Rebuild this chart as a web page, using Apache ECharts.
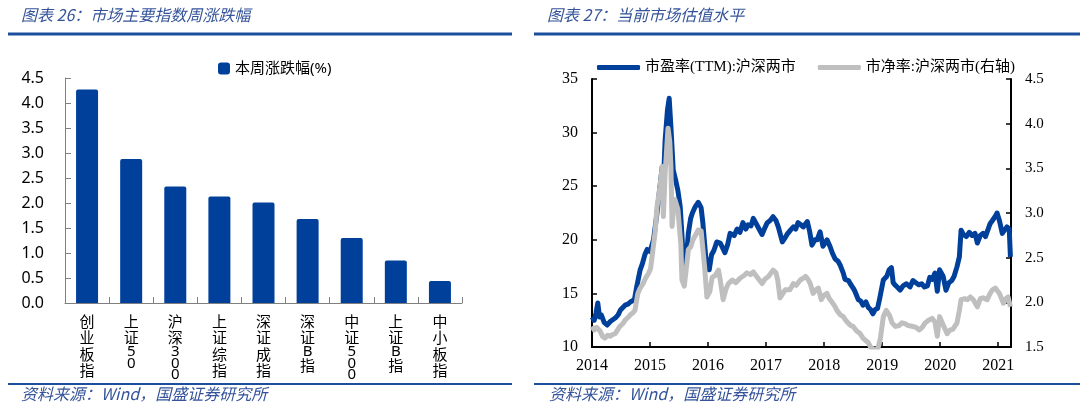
<!DOCTYPE html>
<html>
<head>
<meta charset="utf-8">
<script src="https://cdn.jsdelivr.net/npm/echarts@6/dist/echarts.min.js"></script>
<style>
  html, body { margin: 0; padding: 0; background: #fff; }
  #main { width: 1080px; height: 408px; }
</style>
</head>
<body>
<div id="main"></div>
<script>
// ---- 图表26 数据 ----
const barCats = ['创业板指', '上证50', '沪深300', '上证综指', '深证成指', '深证B指', '中证500', '上证B指', '中小板指'];
const barVals = [4.27, 2.88, 2.33, 2.13, 2.01, 1.68, 1.30, 0.85, 0.44];

// ---- 图表27 数据 (横轴为年份小数) ----
const peT = [2014.00, 2014.04, 2014.07, 2014.10, 2014.13, 2014.16, 2014.21, 2014.26, 2014.32, 2014.40,
  2014.45, 2014.49, 2014.57, 2014.62, 2014.66, 2014.73, 2014.77, 2014.83, 2014.87, 2014.91,
  2014.95, 2015.00, 2015.06, 2015.12, 2015.17, 2015.21, 2015.24, 2015.26, 2015.30, 2015.33,
  2015.36, 2015.40, 2015.44, 2015.48, 2015.52, 2015.56, 2015.60, 2015.63, 2015.66, 2015.70,
  2015.73, 2015.78, 2015.83, 2015.88, 2015.91, 2015.96, 2016.02, 2016.06, 2016.10, 2016.15,
  2016.21, 2016.29, 2016.34, 2016.38, 2016.45, 2016.50, 2016.55, 2016.60, 2016.65, 2016.69,
  2016.74, 2016.78, 2016.82, 2016.86, 2016.93, 2016.97, 2017.02, 2017.07, 2017.12, 2017.17,
  2017.21, 2017.28, 2017.33, 2017.36, 2017.42, 2017.47, 2017.51, 2017.55, 2017.60, 2017.64,
  2017.71, 2017.75, 2017.79, 2017.84, 2017.88, 2017.93, 2017.98, 2018.05, 2018.10, 2018.14,
  2018.19, 2018.24, 2018.28, 2018.33, 2018.36, 2018.42, 2018.45, 2018.50, 2018.53, 2018.59,
  2018.63, 2018.67, 2018.72, 2018.76, 2018.80, 2018.84, 2018.88, 2018.92, 2018.96, 2019.02,
  2019.08, 2019.12, 2019.16, 2019.19, 2019.22, 2019.26, 2019.31, 2019.36, 2019.42, 2019.48,
  2019.53, 2019.58, 2019.63, 2019.68, 2019.73, 2019.78, 2019.82, 2019.86, 2019.91, 2019.95,
  2019.99, 2020.05, 2020.10, 2020.15, 2020.20, 2020.24, 2020.29, 2020.33, 2020.36, 2020.40,
  2020.45, 2020.50, 2020.55, 2020.60, 2020.64, 2020.69, 2020.74, 2020.78, 2020.81, 2020.86,
  2020.90, 2020.95, 2020.98, 2021.02, 2021.07, 2021.11, 2021.15, 2021.19, 2021.21];
const peVals = [12.8, 12.5, 13.2, 14.1, 12.8, 13.0, 12.3, 12.05, 12.4, 12.7,
  13.0, 13.45, 13.9, 14.0, 14.2, 14.4, 15.6, 17.2, 17.8, 18.6,
  19.1, 18.9, 20.0, 22.5, 24.9, 26.8, 26.5, 29.3, 32.1, 33.2,
  30.5, 26.5, 25.6, 24.6, 23.1, 19.5, 17.3, 18.5, 20.6, 22.0,
  22.5, 23.1, 23.5, 23.0, 21.6, 18.4, 17.2, 18.6, 19.0, 19.8,
  19.7, 18.8, 19.6, 20.6, 20.4, 21.0, 20.7, 21.6, 21.0, 21.4,
  21.3, 22.0, 21.6, 21.2, 20.5, 21.0, 21.6, 21.8, 22.15, 21.8,
  21.2, 19.8, 20.2, 20.5, 20.9, 21.2, 21.0, 21.6, 21.4, 21.2,
  21.7, 20.8, 19.5, 20.0, 20.0, 20.75, 19.4, 20.0, 19.4, 18.8,
  18.2, 18.0, 17.6, 16.9, 16.3, 16.2, 15.9, 15.5, 15.2, 14.4,
  14.3, 13.9, 14.2, 13.7, 13.5, 13.1, 13.5, 13.6, 14.6, 16.25,
  16.6, 17.2, 17.4, 16.0, 15.8, 15.6, 15.3, 15.7, 15.9, 15.6,
  16.2, 16.0, 15.8, 15.9, 15.6, 15.7, 16.5, 16.3, 16.9, 15.2,
  17.2, 16.6, 15.3, 16.0, 16.2, 16.6, 17.5, 18.4, 20.9, 20.5,
  20.3, 20.7, 20.4, 20.6, 19.7, 20.4, 20.6, 20.3, 20.4, 21.5,
  21.8, 22.2, 22.5, 21.8, 20.6, 20.9, 21.2, 21.0, 18.4];

const pbT = [2014.00, 2014.04, 2014.08, 2014.14, 2014.18, 2014.22, 2014.27, 2014.31, 2014.36, 2014.40,
  2014.45, 2014.48, 2014.53, 2014.57, 2014.62, 2014.66, 2014.70, 2014.74, 2014.79, 2014.83,
  2014.88, 2014.93, 2014.97, 2015.01, 2015.05, 2015.09, 2015.12, 2015.17, 2015.21, 2015.23,
  2015.26, 2015.29, 2015.31, 2015.34, 2015.36, 2015.38, 2015.41, 2015.43, 2015.48, 2015.53,
  2015.55, 2015.59, 2015.62, 2015.66, 2015.70, 2015.74, 2015.79, 2015.83, 2015.88, 2015.90,
  2015.94, 2015.98, 2016.03, 2016.07, 2016.12, 2016.18, 2016.21, 2016.26, 2016.31, 2016.35,
  2016.42, 2016.48, 2016.55, 2016.62, 2016.67, 2016.73, 2016.78, 2016.86, 2016.93, 2016.98,
  2017.04, 2017.12, 2017.17, 2017.20, 2017.24, 2017.29, 2017.33, 2017.41, 2017.47, 2017.52,
  2017.59, 2017.64, 2017.68, 2017.72, 2017.76, 2017.81, 2017.86, 2017.90, 2017.95, 2018.00,
  2018.05, 2018.09, 2018.14, 2018.19, 2018.22, 2018.28, 2018.33, 2018.37, 2018.41, 2018.46,
  2018.50, 2018.56, 2018.62, 2018.67, 2018.72, 2018.76, 2018.80, 2018.84, 2018.88, 2018.93,
  2018.97, 2019.02, 2019.07, 2019.10, 2019.13, 2019.17, 2019.23, 2019.29, 2019.34, 2019.40,
  2019.45, 2019.53, 2019.58, 2019.64, 2019.69, 2019.74, 2019.80, 2019.86, 2019.91, 2019.95,
  2019.99, 2020.05, 2020.12, 2020.17, 2020.22, 2020.29, 2020.33, 2020.36, 2020.42, 2020.47,
  2020.52, 2020.57, 2020.64, 2020.69, 2020.74, 2020.81, 2020.86, 2020.90, 2020.95, 2020.98,
  2021.02, 2021.07, 2021.09, 2021.13, 2021.17, 2021.21];
const pbVals = [1.73, 1.69, 1.72, 1.68, 1.62, 1.60, 1.63, 1.62, 1.64, 1.65,
  1.70, 1.73, 1.76, 1.80, 1.83, 1.86, 1.88, 1.91, 2.10, 2.16,
  2.21, 2.28, 2.32, 2.38, 2.59, 2.80, 3.07, 3.29, 3.52, 2.96,
  3.44, 3.75, 3.95, 3.80, 3.52, 2.85, 3.10, 3.15, 3.04, 2.66,
  2.25, 2.18, 2.35, 2.59, 2.62, 2.70, 2.76, 2.81, 2.80, 2.78,
  2.40, 2.06, 2.12, 2.28, 2.30, 2.36, 2.25, 2.03, 2.15, 2.21,
  2.25, 2.22, 2.27, 2.30, 2.33, 2.31, 2.34, 2.27, 2.21, 2.26,
  2.29, 2.36, 2.33, 2.25, 2.05, 2.10, 2.14, 2.14, 2.21, 2.19,
  2.25, 2.27, 2.29, 2.26, 2.21, 2.10, 2.14, 2.16, 2.03, 2.08,
  2.10, 2.04, 2.00, 1.95, 1.91, 1.86, 1.84, 1.80, 1.77, 1.74,
  1.73, 1.68, 1.65, 1.60, 1.57, 1.55, 1.50, 1.48, 1.47, 1.49,
  1.60, 1.84, 1.91, 1.93, 1.85, 1.77, 1.73, 1.74, 1.77, 1.76,
  1.74, 1.73, 1.72, 1.69, 1.72, 1.77, 1.80, 1.82, 1.78, 1.62,
  1.84, 1.75, 1.65, 1.69, 1.70, 1.77, 1.91, 2.03, 2.04, 2.03,
  2.06, 2.03, 1.95, 2.04, 2.05, 2.03, 2.10, 2.14, 2.16, 2.18,
  2.10, 2.02, 1.99, 2.04, 2.06, 1.95];

const peName = '市盈率(TTM):沪深两市';
const pbName = '市净率:沪深两市(右轴)';
const barName = '本周涨跌幅(%)';

const blue = '#00409a';
const gray = '#bfbfbf';
const ruleBlue = '#1b4f9e';
const noteColor = '#34539a';
const cjk = "'Noto Sans CJK SC'";
const sans = "'Noto Sans', 'Noto Sans CJK SC', sans-serif";
const serif = "'Liberation Serif', 'Noto Sans CJK SC', serif";

// 竖排标签: 汉字一行一个, 数字/字母行高小一些
function verticalLabel(s) {
    return s.split('').map(function (ch) {
        return /[0-9A-Za-z]/.test(ch) ? '{d|' + ch + '}' : '{c|' + ch + '}';
    }).join('\n');
}

const chart = echarts.init(document.getElementById('main'));

const headStyle = { fontSize: 16, fontStyle: 'italic', fontWeight: 'normal', color: noteColor, fontFamily: cjk };

const option = {
    animation: false,
    backgroundColor: '#fff',
    title: [
        { text: '图表 26：市场主要指数周涨跌幅', left: 21, top: 7, padding: 0, textStyle: headStyle },
        { text: '图表 27：当前市场估值水平', left: 547, top: 7, padding: 0, textStyle: headStyle },
        { text: '资料来源：Wind，国盛证券研究所', left: 21, top: 386, padding: 0, textStyle: headStyle },
        { text: '资料来源：Wind，国盛证券研究所', left: 549, top: 386, padding: 0, textStyle: headStyle }
    ],
    graphic: [
        { type: 'line', shape: { x1: 8, y1: 34, x2: 512, y2: 34 }, style: { stroke: ruleBlue, lineWidth: 3 } },
        { type: 'line', shape: { x1: 534, y1: 34, x2: 1080, y2: 34 }, style: { stroke: ruleBlue, lineWidth: 3 } },
        { type: 'line', shape: { x1: 8, y1: 384, x2: 512, y2: 384 }, style: { stroke: ruleBlue, lineWidth: 2 } },
        { type: 'line', shape: { x1: 534, y1: 384, x2: 1080, y2: 384 }, style: { stroke: ruleBlue, lineWidth: 2 } }
    ],
    legend: [
        {
            data: [barName],
            left: 213, top: 56,
            itemWidth: 12, itemHeight: 12, itemGap: 10, itemTextGap: 2,
            icon: 'roundRect',
            textStyle: { fontSize: 15, color: '#000', fontFamily: sans }
        },
        {
            data: [peName, pbName],
            left: 592, top: 55,
            itemWidth: 43, itemHeight: 5, itemGap: 22, itemTextGap: 5,
            icon: 'roundRect',
            textStyle: { fontSize: 15, color: '#000', fontFamily: serif }
        }
    ],
    grid: [
        { left: 65, top: 78, width: 397, height: 225 },
        { left: 592, top: 79, width: 419, height: 268 }
    ],
    xAxis: [
        {
            type: 'category', gridIndex: 0, data: barCats,
            axisLine: { lineStyle: { color: '#808080', width: 1 } },
            axisTick: { show: true, inside: true, length: 6, lineStyle: { color: '#808080' } },
            axisLabel: {
                interval: 0, margin: 10, color: '#000',
                formatter: verticalLabel,
                rich: {
                    c: { fontSize: 15, lineHeight: 16.5, fontFamily: cjk, color: '#000' },
                    d: { fontSize: 15, lineHeight: 11.5, fontFamily: sans, color: '#000' }
                }
            }
        },
        {
            type: 'value', gridIndex: 1, min: 2014, max: 2021.22, interval: 1,
            splitLine: { show: false },
            axisLine: { onZero: false, lineStyle: { color: '#000', width: 2 } },
            axisTick: { inside: true, length: 5, lineStyle: { color: '#000', width: 1.5 } },
            axisLabel: {
                margin: 11, fontSize: 16, color: '#000', fontFamily: serif,
                formatter: function (v) { return Number.isInteger(v) ? String(v) : ''; }
            }
        }
    ],
    yAxis: [
        {
            type: 'value', gridIndex: 0, min: 0, max: 4.5, interval: 0.5,
            splitLine: { show: false },
            axisLine: { show: true, lineStyle: { color: '#808080', width: 1 } },
            axisTick: { show: true, inside: true, length: 6, lineStyle: { color: '#808080' } },
            axisLabel: {
                margin: 21, fontSize: 16, color: '#000', fontFamily: sans,
                formatter: function (v) { return v.toFixed(1); }
            }
        },
        {
            type: 'value', gridIndex: 1, min: 10, max: 35, interval: 5, position: 'left',
            splitLine: { show: false },
            axisLine: { show: true, lineStyle: { color: '#000', width: 2 } },
            axisTick: { show: true, inside: true, length: 5, lineStyle: { color: '#000', width: 1.5 } },
            axisLabel: { margin: 14, fontSize: 16, color: '#000', fontFamily: serif }
        },
        {
            type: 'value', gridIndex: 1, min: 1.5, max: 4.5, interval: 0.5, position: 'right',
            splitLine: { show: false },
            axisLine: { show: true, lineStyle: { color: '#000', width: 2 } },
            axisTick: { show: true, inside: true, length: 5, lineStyle: { color: '#000', width: 1.5 } },
            axisLabel: {
                margin: 14, fontSize: 15, color: '#000', fontFamily: serif,
                formatter: function (v) { return v.toFixed(1); }
            }
        }
    ],
    series: [
        {
            name: barName, type: 'bar', xAxisIndex: 0, yAxisIndex: 0,
            data: barVals, barWidth: 22,
            itemStyle: { color: blue, borderRadius: [2, 2, 0, 0] }
        },
        {
            name: peName, type: 'line', xAxisIndex: 1, yAxisIndex: 1,
            data: peT.map(function (t, i) { return [t, peVals[i]]; }),
            showSymbol: false, symbol: 'none',
            lineStyle: { color: blue, width: 5, join: 'round' },
            itemStyle: { color: blue }
        },
        {
            name: pbName, type: 'line', xAxisIndex: 1, yAxisIndex: 2,
            data: pbT.map(function (t, i) { return [t, pbVals[i]]; }),
            showSymbol: false, symbol: 'none',
            lineStyle: { color: gray, width: 5, join: 'round' },
            itemStyle: { color: gray }
        }
    ]
};

chart.setOption(option);
</script>
</body>
</html>
